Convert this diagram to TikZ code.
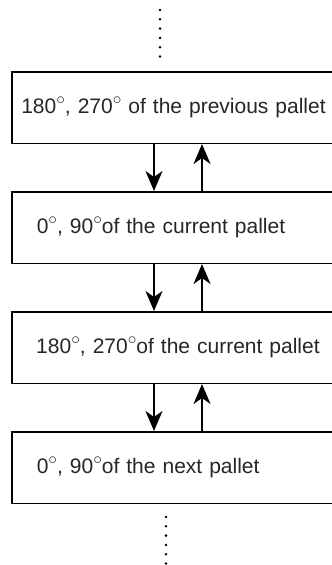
\documentclass[tikz,border=0pt]{standalone}
\usepackage{fontspec}
\setmainfont{Liberation Sans}
\usetikzlibrary{arrows.meta}
\newcommand{\dg}{\raisebox{9.3pt}{\fontsize{18}{18}\selectfont$\circ$}}
\begin{document}
\begin{tikzpicture}[x=1pt,y=-1pt,
  box/.style={draw, line width=1.5pt, minimum width=330pt, minimum height=71.5pt,
    anchor=north west, inner xsep=0pt, inner ysep=0pt, text width=330pt, align=left,
    font=\fontsize{21}{25}\selectfont, text=black!85},
  arr/.style={line width=1.4pt, -{Stealth[length=20pt, width=17pt, inset=6pt]}},
  dots/.style={line width=2.8pt, line cap=round, dash pattern=on 0pt off 9.3pt}]
\useasboundingbox (0,0) rectangle (332,565);
\node[box] (b1) at (11,71) {\hspace*{9.5pt}180\dg, 270\dg\ of the previous pallet};
\node[box] (b2) at (11,191) {\hspace*{25pt}0\dg, 90\dg of the current pallet};
\node[box] (b3) at (11,311) {\hspace*{24.5pt}180\dg, 270\dg of the current pallet};
\node[box] (b4) at (11,431) {\hspace*{25pt}0\dg, 90\dg of the next pallet};
\coordinate (xd) at (154,0);
\coordinate (xu) at (202,0);
\foreach \a/\b in {b1/b2, b2/b3, b3/b4}{
  \draw[arr] (\a.south -| xd) -- (\b.north -| xd);
  \draw[arr] (\b.north -| xu) -- (\a.south -| xu);
}
\coordinate (t1) at (160,10);
\coordinate (t2) at (160,58);
\coordinate (d1) at (166,517);
\coordinate (d2) at (166,564);
\draw[dots] (t1) -- (t2);
\draw[dots] (d1) -- (d2);
\end{tikzpicture}
\end{document}
